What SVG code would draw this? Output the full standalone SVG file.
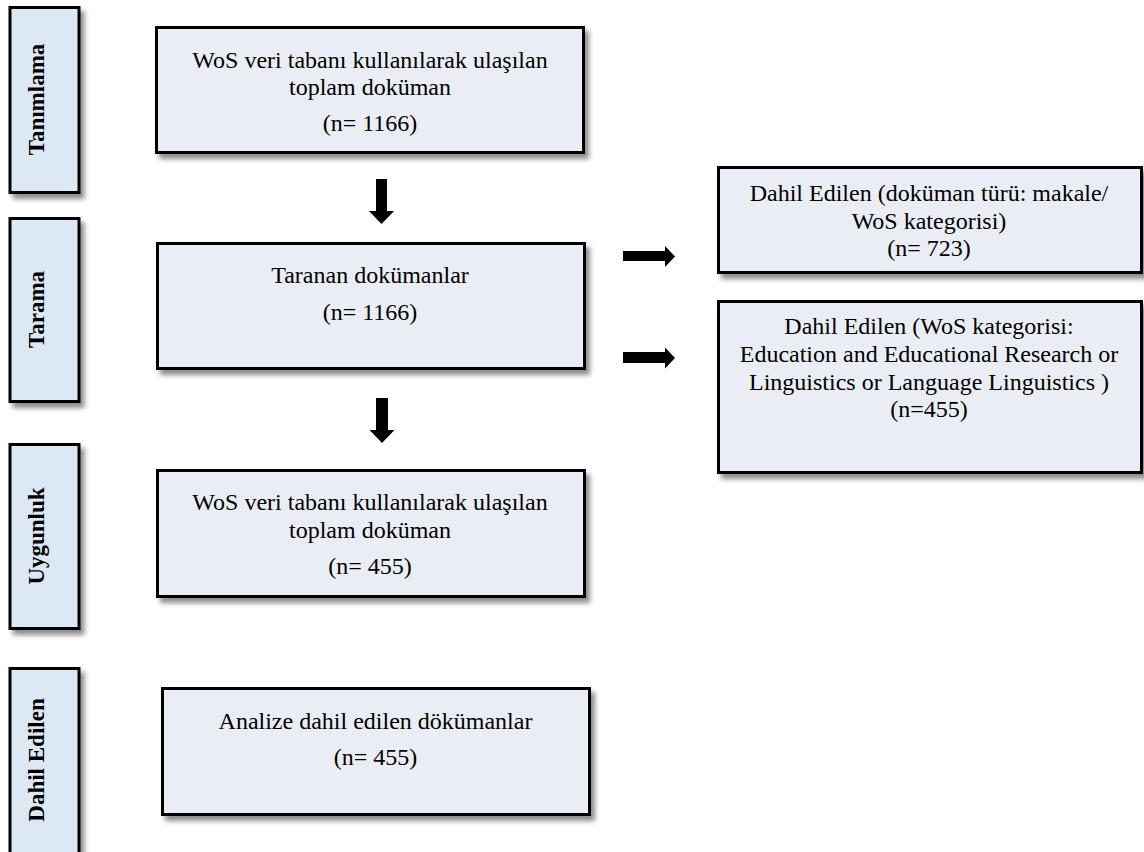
<svg xmlns="http://www.w3.org/2000/svg" width="1144" height="852" viewBox="0 0 1144 852">
<defs>
<filter id="sh" x="-10%" y="-10%" width="125%" height="130%">
<feDropShadow dx="4" dy="5" stdDeviation="2.5" flood-color="#000" flood-opacity="0.45"/>
</filter>
<style>
.box{fill:#eaeef4;stroke:#000;stroke-width:3;filter:url(#sh)}
.lab{fill:#dde8f5;stroke:#000;stroke-width:3;filter:url(#sh)}
.t{font-family:"Liberation Serif","Times New Roman",serif;font-size:24px;fill:#000;text-anchor:middle}
.lt{font-family:"Liberation Serif","Times New Roman",serif;font-size:23px;font-weight:bold;fill:#000;text-anchor:middle}
.arr{fill:#000}
</style>
</defs>
<rect width="1144" height="852" fill="#fff"/>

<g id="label-tanimlama">
<rect class="lab" x="10" y="7.5" width="69" height="185"/>
<text class="lt" transform="translate(44,99.5) rotate(-90)">Tanımlama</text>
</g>
<g id="label-tarama">
<rect class="lab" x="10" y="218.5" width="69" height="183"/>
<text class="lt" transform="translate(44,309.5) rotate(-90)">Tarama</text>
</g>
<g id="label-uygunluk">
<rect class="lab" x="10" y="444.5" width="69" height="184"/>
<text class="lt" transform="translate(44,536) rotate(-90)">Uygunluk</text>
</g>
<g id="label-dahil">
<rect class="lab" x="10" y="668.5" width="69" height="186"/>
<text class="lt" transform="translate(44,760) rotate(-90)">Dahil Edilen</text>
</g>

<g id="box-wos-1166">
<rect class="box" x="156.5" y="27.5" width="427" height="125"/>
<text class="t" x="370" y="68">WoS veri tabanı kullanılarak ulaşılan</text>
<text class="t" x="370" y="95">toplam doküman</text>
<text class="t" x="370" y="131">(n= 1166)</text>
</g>
<g id="box-taranan">
<rect class="box" x="157.5" y="243.5" width="427" height="125"/>
<text class="t" x="370" y="283">Taranan dokümanlar</text>
<text class="t" x="370" y="320">(n= 1166)</text>
</g>
<g id="box-wos-455">
<rect class="box" x="157.5" y="470.5" width="427" height="126"/>
<text class="t" x="370" y="510">WoS veri tabanı kullanılarak ulaşılan</text>
<text class="t" x="370" y="538">toplam doküman</text>
<text class="t" x="370" y="574">(n= 455)</text>
</g>
<g id="box-analize">
<rect class="box" x="162.5" y="688.5" width="427" height="126"/>
<text class="t" x="375.5" y="729">Analize dahil edilen dökümanlar</text>
<text class="t" x="375.5" y="765">(n= 455)</text>
</g>
<g id="box-dahil-723">
<rect class="box" x="718.5" y="167.5" width="423" height="105"/>
<text class="t" x="929" y="201">Dahil Edilen (doküman türü: makale/</text>
<text class="t" x="929" y="229">WoS kategorisi)</text>
<text class="t" x="929" y="256">(n= 723)</text>
</g>
<g id="box-dahil-455">
<rect class="box" x="718.5" y="301.5" width="423" height="171"/>
<text class="t" x="929" y="334">Dahil Edilen (WoS kategorisi:</text>
<text class="t" x="929" y="362">Education and Educational Research or</text>
<text class="t" x="929" y="390">Linguistics or Language Linguistics )</text>
<text class="t" x="929" y="417">(n=455)</text>
</g>

<g id="connectors">
<path class="arr" d="M376,179 H387 V211 H394 L381.5,224 L369,211 H376 Z"/>
<path class="arr" d="M376,398 H388 V430 H394.5 L382,443 L369.5,430 H376 Z"/>
<path class="arr" d="M623,251 H665 V246 L675,256.5 L665,267 V261 H623 Z"/>
<path class="arr" d="M623,352 H665 V347.5 L675,358 L665,368.5 V363 H623 Z"/>
</g>
</svg>
